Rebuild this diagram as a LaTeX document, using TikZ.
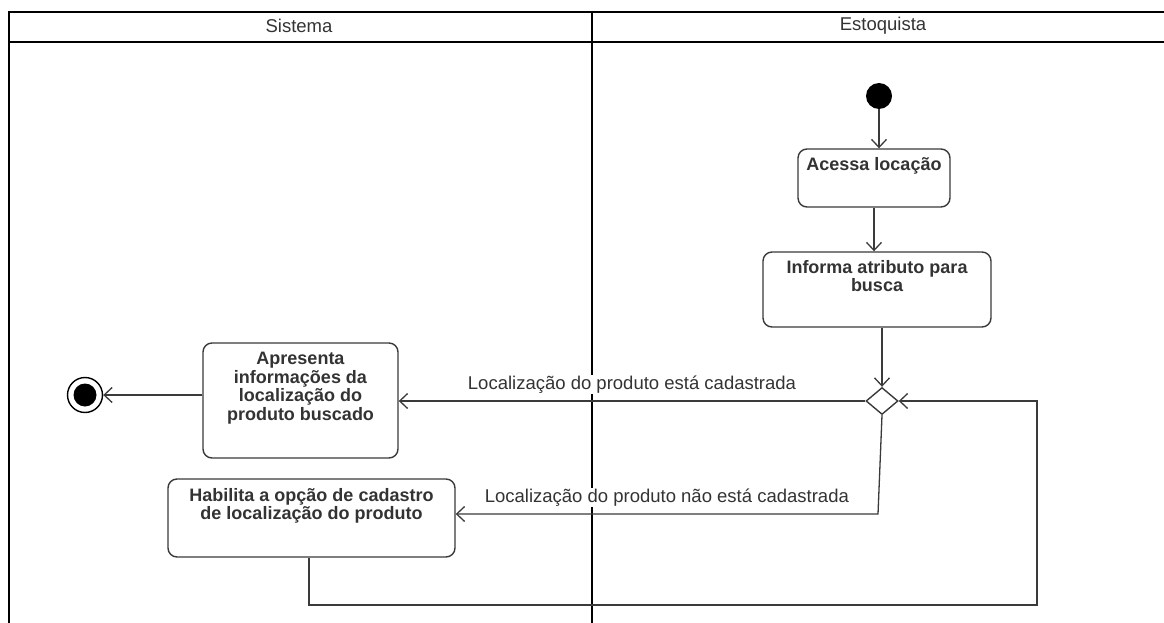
\documentclass[tikz,border=0pt]{standalone}
\usepackage{fontspec}
\setmainfont{Liberation Sans}
\usetikzlibrary{arrows.meta,shapes.geometric}
\definecolor{linec}{HTML}{3A3A3A}
\definecolor{txtc}{HTML}{333333}
\begin{document}
\begin{tikzpicture}[x=1pt,y=-1pt,
  lane/.style={draw=black, line width=2pt},
  flow/.style={draw=linec, line width=1.3pt, -{Straight Barb[length=8pt,width=15pt,line width=1.3pt]}},
  act/.style={draw=linec, line width=1.4pt, rounded corners=9pt, inner sep=0pt, fill=white},
  acttext/.style={anchor=north, align=center, inner sep=0pt, font=\fontsize{18}{18.4}\selectfont\bfseries, text=txtc},
  lbl/.style={font=\fontsize{18.5}{20}\selectfont, text=txtc, inner sep=1pt, fill=white},
  hdr/.style={font=\fontsize{18.5}{20}\selectfont, text=txtc, inner sep=0pt}]
\useasboundingbox (0,0) rectangle (1164,623);
% swimlanes
\draw[lane] (9,12) -- (1164,12);
\draw[lane] (9,42) -- (1164,42);
\draw[lane] (9,11) -- (9,623);
\draw[lane] (592,11) -- (592,623);
\node[hdr] (hsis) at (299,26) {Sistema};
\node[hdr] (hest) at (883,26) {Estoquista};
% nodes
\node[circle, fill=black, minimum size=26pt, inner sep=0pt] (init) at (879,96) {};
\node[act, minimum width=152pt, minimum height=58pt] (acessa) at (874,178) {};
\node[acttext] (acessaT) at ([yshift=-9pt]acessa.north) {Acessa locação};
\node[act, minimum width=228pt, minimum height=75pt] (informa) at (877,289.5) {};
\node[acttext] (informaT) at ([yshift=-9pt]informa.north) {Informa atributo para\\busca};
\node[diamond, draw=linec, line width=1.4pt, minimum width=32pt, minimum height=27pt, inner sep=0pt, fill=white] (dec) at (882,401) {};
\node[act, minimum width=195pt, minimum height=115pt] (apresenta) at (300.5,400.5) {};
\node[acttext] (apresentaT) at ([yshift=-10pt]apresenta.north) {Apresenta\\informações da\\localização do\\produto buscado};
\node[act, minimum width=287pt, minimum height=78pt] (habilita) at (311.5,518) {};
\node[acttext] (habilitaT) at ([yshift=-10pt]habilita.north) {Habilita a opção de cadastro\\de localização do produto};
\node[circle, draw=black, line width=1.4pt, minimum size=35pt, inner sep=0pt] (final) at (85,395) {};
\node[circle, fill=black, minimum size=23pt, inner sep=0pt] (finalin) at (final.center) {};
% coordinates
\coordinate (c1) at (878,514);
\coordinate (c2) at (309,605);
\coordinate (c3) at (1037,605);
\coordinate (c4) at (1037,401);
% connectors
\draw[flow] (init) -- (init |- acessa.north);
\draw[flow] (acessa.south) -- (acessa.south |- informa.north);
\draw[flow] (dec |- informa.south) -- (dec.north);
\draw[flow] (dec.west) -- node[lbl, above=6pt] (l1) {Localização do produto está cadastrada} (dec.west -| apresenta.east);
\draw[flow] (dec.south) -- (c1) -- node[lbl, above=6pt] (l2) {Localização do produto não está cadastrada} (c1 -| habilita.east);
\draw[flow] (c2 |- habilita.south) -- (c2) -- (c3) -- (c4) -- (dec.east);
\draw[flow] (apresenta.west |- final) -- (final);
\end{tikzpicture}
\end{document}
